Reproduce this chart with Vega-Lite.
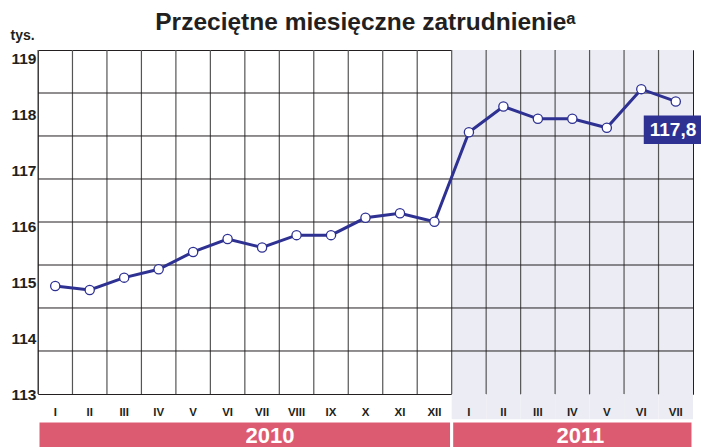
{
  "$schema": "https://vega.github.io/schema/vega-lite/v6.json",
  "width": 655,
  "height": 344,
  "autosize": "none",
  "padding": {"left": 38, "top": 50, "right": 8, "bottom": 53},
  "background": "white",
  "config": {
    "view": {"stroke": "#231F20", "strokeWidth": 1},
    "font": "Liberation Sans"
  },
  "title": {
    "text": "Przeciętne miesięczne zatrudnienieᵃ",
    "font": "Liberation Sans",
    "fontSize": 24.5,
    "fontWeight": "bold",
    "color": "#231F20",
    "anchor": "middle",
    "offset": 2,
    "dy": 9
  },
  "datasets": {
    "s": [
      {"key": "I 2010", "year": "2010", "v": 114.93},
      {"key": "II 2010", "year": "2010", "v": 114.86},
      {"key": "III 2010", "year": "2010", "v": 115.08},
      {"key": "IV 2010", "year": "2010", "v": 115.23},
      {"key": "V 2010", "year": "2010", "v": 115.54},
      {"key": "VI 2010", "year": "2010", "v": 115.77},
      {"key": "VII 2010", "year": "2010", "v": 115.62},
      {"key": "VIII 2010", "year": "2010", "v": 115.84},
      {"key": "IX 2010", "year": "2010", "v": 115.84},
      {"key": "X 2010", "year": "2010", "v": 116.15},
      {"key": "XI 2010", "year": "2010", "v": 116.23},
      {"key": "XII 2010", "year": "2010", "v": 116.08},
      {"key": "I 2011", "year": "2011", "v": 117.68},
      {"key": "II 2011", "year": "2011", "v": 118.14},
      {"key": "III 2011", "year": "2011", "v": 117.92},
      {"key": "IV 2011", "year": "2011", "v": 117.92},
      {"key": "V 2011", "year": "2011", "v": 117.76},
      {"key": "VI 2011", "year": "2011", "v": 118.45},
      {"key": "VII 2011", "year": "2011", "v": 118.23, "txt": "117,8"}
    ],
    "grid": [
      {"g": 113.769}, {"g": 114.538}, {"g": 115.306}, {"g": 116.075},
      {"g": 116.844}, {"g": 117.613}, {"g": 118.381}
    ],
    "years": [
      {"year": "2010", "first": "I 2010", "last": "XII 2010", "mid": "VII 2010"},
      {"year": "2011", "first": "I 2011", "last": "VII 2011", "mid": "IV 2011"}
    ]
  },
  "encoding": {
    "x": {
      "field": "key",
      "type": "nominal",
      "sort": null,
      "scale": {
        "type": "band",
        "paddingInner": 0,
        "paddingOuter": 0,
        "domain": ["I 2010","II 2010","III 2010","IV 2010","V 2010","VI 2010","VII 2010","VIII 2010","IX 2010","X 2010","XI 2010","XII 2010","I 2011","II 2011","III 2011","IV 2011","V 2011","VI 2011","VII 2011"]
      },
      "axis": {
        "title": null,
        "labelExpr": "split(datum.value, ' ')[0]",
        "labelAngle": 0,
        "labelFont": "Liberation Sans",
        "labelFontSize": 11.5,
        "labelFontWeight": "bold",
        "labelColor": "#231F20",
        "labelPadding": 12,
        "ticks": false,
        "domain": false,
        "grid": false,
        "zindex": 1
      }
    }
  },
  "layer": [
    {
      "data": {"name": "s"},
      "transform": [{"filter": "datum.year == '2011'"}],
      "mark": {"type": "rect", "color": "#ECEDF4"},
      "encoding": {
        "y": {"datum": 119.15, "type": "quantitative", "scale": {"domain": [113, 119.15], "nice": false, "zero": false}},
        "y2": {"datum": 112.544}
      }
    },
    {
      "data": {"name": "s"},
      "mark": {"type": "rule", "color": "#555555", "strokeWidth": 1.2},
      "encoding": {
        "x": {"field": "key", "type": "nominal", "bandPosition": 0}
      }
    },
    {
      "data": {"name": "grid"},
      "mark": {"type": "rule", "color": "#231F20", "strokeWidth": 1},
      "encoding": {
        "x": null,
        "y": {"field": "g", "type": "quantitative"}
      }
    },
    {
      "data": {"name": "years"},
      "mark": {"type": "rect", "color": "#DD5B70", "stroke": "white", "strokeWidth": 3},
      "encoding": {
        "x": {"field": "first", "type": "nominal", "bandPosition": 0},
        "x2": {"field": "last", "bandPosition": 1},
        "y": {"datum": 112.517, "type": "quantitative"},
        "y2": {"datum": 111.9}
      }
    },
    {
      "data": {"name": "years"},
      "mark": {"type": "text", "color": "white", "font": "Liberation Sans", "fontSize": 22, "fontWeight": "bold", "baseline": "alphabetic", "dx": 8},
      "encoding": {
        "x": {"field": "mid", "type": "nominal"},
        "y": {"datum": 112.12, "type": "quantitative"},
        "text": {"field": "year"}
      }
    },
    {
      "data": {"name": "s"},
      "mark": {"type": "line", "color": "#2E3192", "strokeWidth": 3},
      "encoding": {
        "y": {
          "field": "v",
          "type": "quantitative",
          "scale": {"domain": [113, 119.15], "nice": false, "zero": false},
          "axis": {
            "values": [113, 114, 115, 116, 117, 118, 119],
            "format": "d",
            "title": "tys.",
            "titleAngle": 0,
            "titleAlign": "left",
            "titleBaseline": "alphabetic",
            "titleX": -28,
            "titleY": -11,
            "titleFont": "Liberation Sans",
            "titleFontSize": 14,
            "titleFontWeight": "bold",
            "titleColor": "#231F20",
            "labelFont": "Liberation Sans",
            "labelFontSize": 15.5,
            "labelFontWeight": "bold",
            "labelColor": "#231F20",
            "labelPadding": 2,
            "ticks": false,
            "domain": false,
            "grid": false
          }
        }
      }
    },
    {
      "data": {"name": "s"},
      "mark": {"type": "point", "shape": "circle", "filled": true, "fill": "white", "stroke": "#2E3192", "strokeWidth": 1.3, "size": 85, "opacity": 1},
      "encoding": {
        "y": {"field": "v", "type": "quantitative"}
      }
    },
    {
      "data": {"name": "s"},
      "transform": [{"filter": "datum.txt != null"}],
      "mark": {"type": "point", "shape": "M-1,-0.447L1,-0.447L1,0.447L-1,0.447Z", "filled": true, "color": "#2E3192", "size": 4096, "opacity": 1, "yOffset": 28.3},
      "encoding": {
        "y": {"field": "v", "type": "quantitative"}
      }
    },
    {
      "data": {"name": "s"},
      "transform": [{"filter": "datum.txt != null"}],
      "mark": {"type": "text", "color": "white", "font": "Liberation Sans", "fontSize": 19, "fontWeight": "bold", "align": "left", "baseline": "middle", "dx": -26, "dy": 28.3},
      "encoding": {
        "y": {"field": "v", "type": "quantitative"},
        "text": {"field": "txt"}
      }
    }
  ]
}
